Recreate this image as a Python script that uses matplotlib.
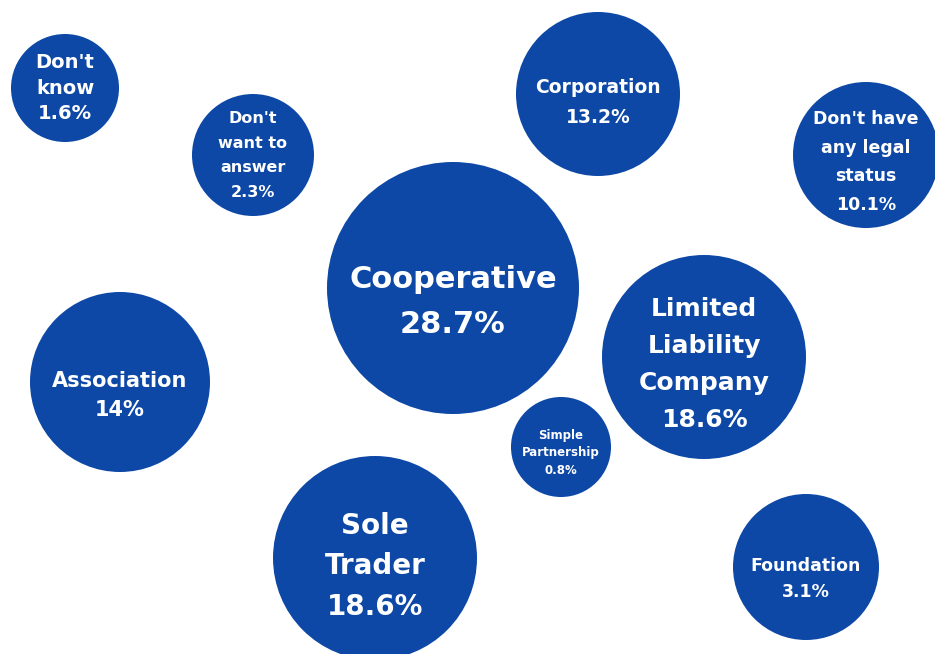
import matplotlib.pyplot as plt
from matplotlib.patches import Circle

# Legal status shares (%)
labels = ["Don't\nknow", "Don't\nwant to\nanswer", "Corporation", "Don't have\nany legal\nstatus",
          "Cooperative", "Limited\nLiability\nCompany", "Association", "Simple\nPartnership",
          "Sole\nTrader", "Foundation"]
values = [1.6, 2.3, 13.2, 10.1, 28.7, 18.6, 14, 0.8, 18.6, 3.1]

# Bubble layout in pixels: centre x, centre y, radius, text centre y, font size, line spacing
layout = [
    (65, 88, 54, 88, 14, 1.46),
    (253, 155, 61, 155.5, 11.5, 1.78),
    (598, 94, 82, 102.5, 13.5, 1.68),
    (866, 155, 73, 162, 12.5, 1.75),
    (453, 288, 126, 302, 22, 1.68),
    (704, 357, 102, 364.5, 18, 1.7),
    (120, 382, 90, 395.5, 15, 1.6),
    (561, 447, 50, 452.5, 8.5, 1.45),
    (375, 558, 102, 566.5, 20, 1.58),
    (806, 567, 73, 579, 12.5, 1.57),
]

color = "#0D48A6"

fig = plt.figure(figsize=(9.35, 6.54), dpi=100)
ax = fig.add_axes([0, 0, 1, 1])
ax.set_xlim(0, 935)
ax.set_ylim(654, 0)
ax.set_aspect("equal")
ax.axis("off")

for i in range(len(labels)):
    cx, cy, r, ty, fs, ls = layout[i]
    ax.add_patch(Circle((cx, cy), r, color=color, lw=0))
    txt = labels[i] + "\n" + "{:g}%".format(values[i])
    ax.text(cx, ty, txt, color="white", fontsize=fs, fontweight="bold",
            family="DejaVu Sans", ha="center", va="center", multialignment="center",
            linespacing=ls)

plt.savefig("out.png", dpi=100)
plt.close()
